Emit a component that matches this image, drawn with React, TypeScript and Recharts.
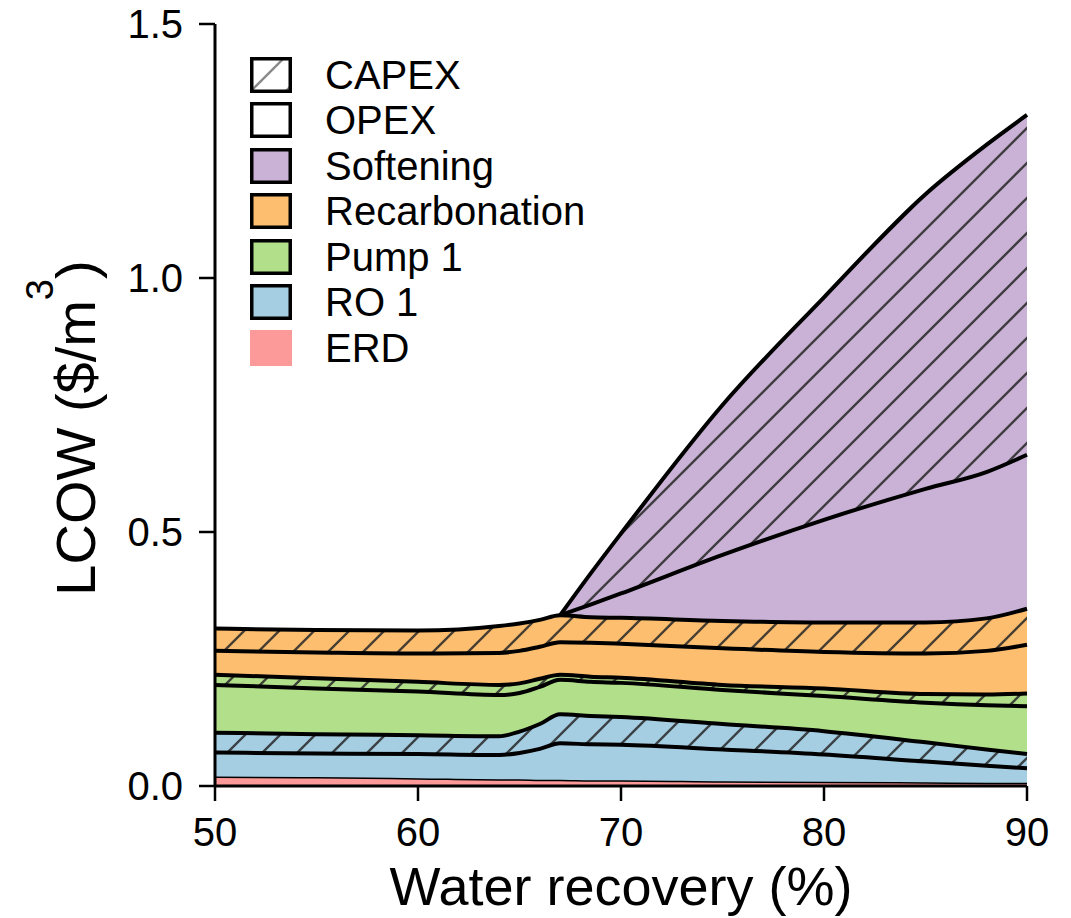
import { ComposedChart, Area, Line, XAxis, YAxis } from 'recharts';

const FONT = '"Liberation Sans", Arial, Helvetica, sans-serif';

// water recovery (%)
const recovery = [50, 55, 60, 64, 65, 66, 67, 68.5, 70, 75, 80, 85, 88, 90];

// LCOW contributions ($/m3), listed from the bottom of the stack up
const erd = [0.017, 0.016, 0.014, 0.012, 0.012, 0.011, 0.011, 0.01, 0.01, 0.008, 0.007, 0.006, 0.005, 0.005];
const ro1Opex = [0.049, 0.048, 0.049, 0.049, 0.053, 0.062, 0.073, 0.072, 0.071, 0.064, 0.055, 0.042, 0.035, 0.03];
const ro1Capex = [0.039, 0.038, 0.037, 0.037, 0.042, 0.049, 0.057, 0.056, 0.055, 0.05, 0.046, 0.038, 0.032, 0.028];
const pump1Opex = [0.094, 0.09, 0.086, 0.081, 0.076, 0.073, 0.068, 0.067, 0.067, 0.067, 0.069, 0.078, 0.087, 0.094];
const pump1Capex = [0.02, 0.02, 0.019, 0.02, 0.019, 0.016, 0.01, 0.01, 0.01, 0.01, 0.015, 0.017, 0.021, 0.025];
const recarbOpex = [0.047, 0.051, 0.056, 0.063, 0.064, 0.063, 0.064, 0.067, 0.067, 0.072, 0.072, 0.08, 0.086, 0.096];
const recarbCapex = [0.044, 0.044, 0.045, 0.053, 0.054, 0.053, 0.053, 0.05, 0.051, 0.054, 0.058, 0.061, 0.064, 0.071];
const softOpex = [0, 0, 0, 0, 0, 0, 0, 0.025, 0.048, 0.13, 0.202, 0.263, 0.288, 0.303];
const softCapex = [0, 0, 0, 0, 0, 0, 0, 0.061, 0.118, 0.295, 0.438, 0.58, 0.644, 0.669];

const xTicks = [50, 60, 70, 80, 90];
const yTicks = [0, 0.5, 1.0, 1.5];

const PURPLE = '#cab2d6';
const ORANGE = '#fdbf6f';
const GREEN = '#b2df8a';
const BLUE = '#a6cee3';
const PINK = '#fb9a99';
const EDGE = 4;

const layers = [
  { key: 'erd', values: erd, color: PINK, hatch: false, edge: 1.5 },
  { key: 'ro1Opex', values: ro1Opex, color: BLUE, hatch: false, edge: EDGE },
  { key: 'ro1Capex', values: ro1Capex, color: BLUE, hatch: true, edge: EDGE },
  { key: 'pump1Opex', values: pump1Opex, color: GREEN, hatch: false, edge: EDGE },
  { key: 'pump1Capex', values: pump1Capex, color: GREEN, hatch: true, edge: EDGE },
  { key: 'recarbOpex', values: recarbOpex, color: ORANGE, hatch: false, edge: EDGE },
  { key: 'recarbCapex', values: recarbCapex, color: ORANGE, hatch: true, edge: EDGE },
  { key: 'softOpex', values: softOpex, color: PURPLE, hatch: false, edge: EDGE },
  { key: 'softCapex', values: softCapex, color: PURPLE, hatch: true, edge: EDGE },
];

// softening only switches on at 67 %; its band is drawn from the last zero onwards
const softStart = softOpex.findIndex((v, i) => v === 0 && softOpex[i + 1] > 0);
const softKeys = ['softOpex', 'softCapex'];

const hatchColors = [BLUE, GREEN, ORANGE, PURPLE];
const hatchId = (c: string) => 'hatch-' + c.slice(1);

// one row per recovery value, with the running total at each layer's top edge
const rows = recovery.map((x, i) => {
  const row: Record<string, number | null> = { recovery: x };
  let sum = 0;
  layers.forEach((l) => {
    row[l.key] = l.values[i];
    sum += l.values[i];
    row[l.key + 'Top'] = softKeys.includes(l.key) && i < softStart ? null : sum;
  });
  return row;
});

// band between the top of the layer below and this layer's top
const band = (below: string, key: string) => (d: Record<string, number | null>) =>
  d[key + 'Top'] == null ? null : [d[below + 'Top'] as number, d[key + 'Top'] as number];

const legendItems = [
  { label: 'CAPEX', fill: '#fff', hatch: true, border: true },
  { label: 'OPEX', fill: '#fff', hatch: false, border: true },
  { label: 'Softening', fill: PURPLE, hatch: false, border: true },
  { label: 'Recarbonation', fill: ORANGE, hatch: false, border: true },
  { label: 'Pump 1', fill: GREEN, hatch: false, border: true },
  { label: 'RO 1', fill: BLUE, hatch: false, border: true },
  { label: 'ERD', fill: PINK, hatch: false, border: false },
];

// "/" hatching, 35px apart horizontally
const HATCH_PATH = 'M0,35 L35,0 M-9,9 L9,-9 M26,44 L44,26';

function HatchPattern({ id, color, ink }: { id: string; color: string; ink: string }) {
  return (
    <pattern id={id} patternUnits="userSpaceOnUse" width={35} height={35}>
      <rect width={35} height={35} fill={color} />
      <path d={HATCH_PATH} stroke={ink} strokeWidth={2.4} />
    </pattern>
  );
}

function Swatch({ fill, hatch, border }: { fill: string; hatch: boolean; border: boolean }) {
  return (
    <svg width={42} height={36} style={{ display: 'block' }}>
      <defs>
        <HatchPattern id="legend-hatch" color="#fff" ink="#8a8a8a" />
      </defs>
      <rect
        x={border ? 1.75 : 0}
        y={border ? 1.75 : 0}
        width={border ? 38.5 : 42}
        height={border ? 32.5 : 36}
        fill={hatch ? 'url(#legend-hatch)' : fill}
        stroke={border ? '#000' : 'none'}
        strokeWidth={3.5}
      />
    </svg>
  );
}

function YLabel() {
  return (
    <text
      x={95}
      y={428}
      transform="rotate(-90, 95, 428)"
      textAnchor="middle"
      fontSize={56}
      fontFamily={FONT}
      fill="#000"
    >
      LCOW ($/m
      <tspan dy={-42} fontSize={38}>3</tspan>
      <tspan dy={42}>)</tspan>
    </text>
  );
}

function XLabel() {
  return (
    <text x={621} y={905} textAnchor="middle" fontSize={54} fontFamily={FONT} fill="#000">
      Water recovery (%)
    </text>
  );
}

export default function App() {
  const tickStyle = { fill: '#000', fontSize: 40, fontFamily: FONT };
  const stacked = layers.filter((l) => !softKeys.includes(l.key));
  return (
    <div style={{ position: 'absolute', left: 0, top: 0, width: 1071, height: 918, fontFamily: FONT, background: '#fff' }}>
      <ComposedChart width={1071} height={918} data={rows} margin={{ top: 24, right: 44, left: 0, bottom: 0 }}>
        <defs>
          {hatchColors.map((c) => (
            <HatchPattern key={c} id={hatchId(c)} color={c} ink="rgba(40,40,40,0.85)" />
          ))}
        </defs>
        <XAxis
          dataKey="recovery"
          type="number"
          domain={[50, 90]}
          ticks={xTicks}
          height={132}
          tick={tickStyle}
          tickSize={15}
          tickMargin={17}
          axisLine={{ stroke: '#000', strokeWidth: 3 }}
          tickLine={{ stroke: '#000', strokeWidth: 2.5 }}
          label={XLabel}
        />
        <XAxis xAxisId="top" orientation="top" type="number" domain={[50, 90]} height={0} tick={false} tickLine={false} axisLine={{ stroke: '#000', strokeWidth: 3 }} />
        <YAxis
          type="number"
          domain={[0, 1.5]}
          ticks={yTicks}
          width={215}
          tick={tickStyle}
          tickFormatter={(v: number) => v.toFixed(1)}
          tickSize={16}
          tickMargin={16}
          axisLine={{ stroke: '#000', strokeWidth: 3 }}
          tickLine={{ stroke: '#000', strokeWidth: 2.5 }}
          allowDataOverflow
          label={YLabel}
        />
        <YAxis yAxisId="right" orientation="right" type="number" domain={[0, 1.5]} width={0} tick={false} tickLine={false} axisLine={{ stroke: '#000', strokeWidth: 3 }} />
        {stacked.map((l) => (
          <Area
            key={l.key}
            type="monotone"
            dataKey={l.key}
            stackId="lcow"
            fill={l.hatch ? `url(#${hatchId(l.color)})` : l.color}
            fillOpacity={1}
            stroke="none"
            isAnimationActive={false}
          />
        ))}
        <Area
          type="monotone"
          dataKey={band('recarbCapex', 'softOpex')}
          fill={PURPLE}
          fillOpacity={1}
          stroke="none"
          isAnimationActive={false}
        />
        <Area
          type="monotone"
          dataKey={band('softOpex', 'softCapex')}
          fill={`url(#${hatchId(PURPLE)})`}
          fillOpacity={1}
          stroke="none"
          isAnimationActive={false}
        />
        {layers.map((l) => (
          <Line
            key={l.key + 'Top'}
            type="monotone"
            dataKey={l.key + 'Top'}
            stroke="#000"
            strokeWidth={l.edge}
            dot={false}
            activeDot={false}
            isAnimationActive={false}
          />
        ))}
      </ComposedChart>
      {legendItems.map((item, i) => {
        const cy = 74.7 + i * 45.5;
        return (
          <div key={item.label}>
            <div style={{ position: 'absolute', left: 250, top: cy - 18 }}>
              <Swatch fill={item.fill} hatch={item.hatch} border={item.border} />
            </div>
            <div
              style={{
                position: 'absolute',
                left: 325,
                top: cy - 20,
                height: 40,
                fontSize: 40,
                lineHeight: '40px',
                color: '#000',
                whiteSpace: 'nowrap',
              }}
            >
              {item.label}
            </div>
          </div>
        );
      })}
    </div>
  );
}
